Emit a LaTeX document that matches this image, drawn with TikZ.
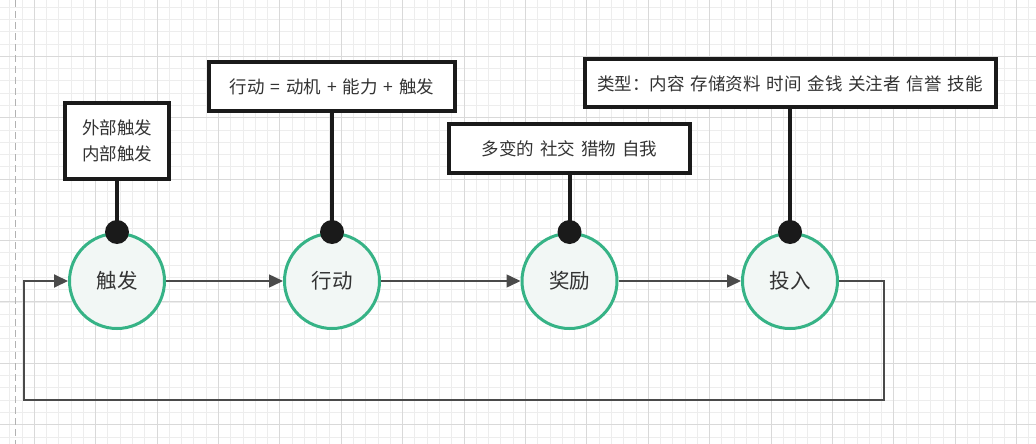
\documentclass[tikz,border=0pt]{standalone}
\usepackage{fontspec}
\setmainfont[WordSpace=1.5]{Noto Sans CJK SC}
\usetikzlibrary{arrows.meta, positioning}

\definecolor{ringgreen}{HTML}{36B386}
\definecolor{ringfill}{HTML}{F2F7F5}
\definecolor{inkdark}{HTML}{1A1A1A}
\definecolor{flowgray}{HTML}{4A4A4A}
\definecolor{textgray}{HTML}{333333}
\definecolor{gridminor}{HTML}{EDEDED}
\definecolor{gridmajor}{HTML}{D9D9D9}

\begin{document}
\begin{tikzpicture}[
    x=1pt, y=-1pt,
    every node/.style={font=\fontsize{17.5}{26}\selectfont, text=textgray},
    stage/.style={circle, draw=ringgreen, line width=3pt, fill=ringfill,
                  minimum size=95pt, inner sep=0pt, font=\fontsize{20.5}{24}\selectfont},
    notebox/.style={rectangle, draw=inkdark, line width=4pt, fill=white,
                    align=center, inner sep=0pt},
    pin/.style={circle, fill=inkdark, minimum size=24pt, inner sep=0pt},
    stem/.style={draw=inkdark, line width=4pt},
    flow/.style={draw=flowgray, line width=1.5pt, -{Triangle[length=14pt, width=13pt]}},
    minorline/.style={gridminor, line width=0.8pt},
    majorline/.style={gridmajor, line width=1pt}
]
\useasboundingbox (0,0) rectangle (1036,444);
\fill[white] (0,0) rectangle (1036,444);

% grid
\foreach \i in {0,...,83} {\draw[minorline] ({9.64+12.28*\i},0) -- ++(0,444);}
\foreach \j in {0,...,35} {\draw[minorline] (0,{7.18+12.28*\j}) -- ++(1036,0);}
\foreach \k in {0,...,16} {\draw[majorline] ({34.2+61.4*\k},0) -- ++(0,444);}
\foreach \k in {0,...,6} {\draw[majorline] (0,{56.3+61.4*\k}) -- ++(1036,0);}
\draw[gray!60, line width=1pt, dash pattern=on 7pt off 4pt] (15.5,0) -- (15.5,444);

% loop stages
\node[stage] (chufa) at (117,281) {触发};
\node[stage] (xingdong) at (332,281) {行动};
\node[stage] (jiangli) at (569.5,281) {奖励};
\node[stage] (touru) at (790,281) {投入};

% pins on top
\node[pin] (p1) at (chufa.north) {};
\node[pin] (p2) at (xingdong.north) {};
\node[pin] (p3) at (jiangli.north) {};
\node[pin] (p4) at (touru.north) {};

% notes
\node[notebox, minimum width=104pt, minimum height=76pt, above=38.5pt of p1] (n1) {外部触发\\内部触发};
\node[notebox, minimum width=246pt, minimum height=49pt, above=106.5pt of p2] (n2) {行动 = 动机 + 能力 + 触发};
\node[notebox, minimum width=241pt, minimum height=49pt, above=44.5pt of p3] (n3) {多变的 社交 猎物 自我};
\node[notebox, minimum width=411pt, minimum height=48pt, above=110.5pt of p4] (n4) {类型：内容 存储资料 时间 金钱 关注者 信誉 技能};

\draw[stem] (p1.center) -- (n1.south);
\draw[stem] (p2.center) -- (n2.south);
\draw[stem] (p3.center) -- (n3.south);
\draw[stem] (p4.center) -- (n4.south);

% flow
\draw[flow] (chufa) -- (xingdong);
\draw[flow] (xingdong) -- (jiangli);
\draw[flow] (jiangli) -- (touru);
\coordinate (backR) at (884,400);
\coordinate (backL) at (24,400);
\draw[flow, line width=2pt] (touru.east) -| (backR) -- (backL) |- (chufa.west);
\end{tikzpicture}
\end{document}
